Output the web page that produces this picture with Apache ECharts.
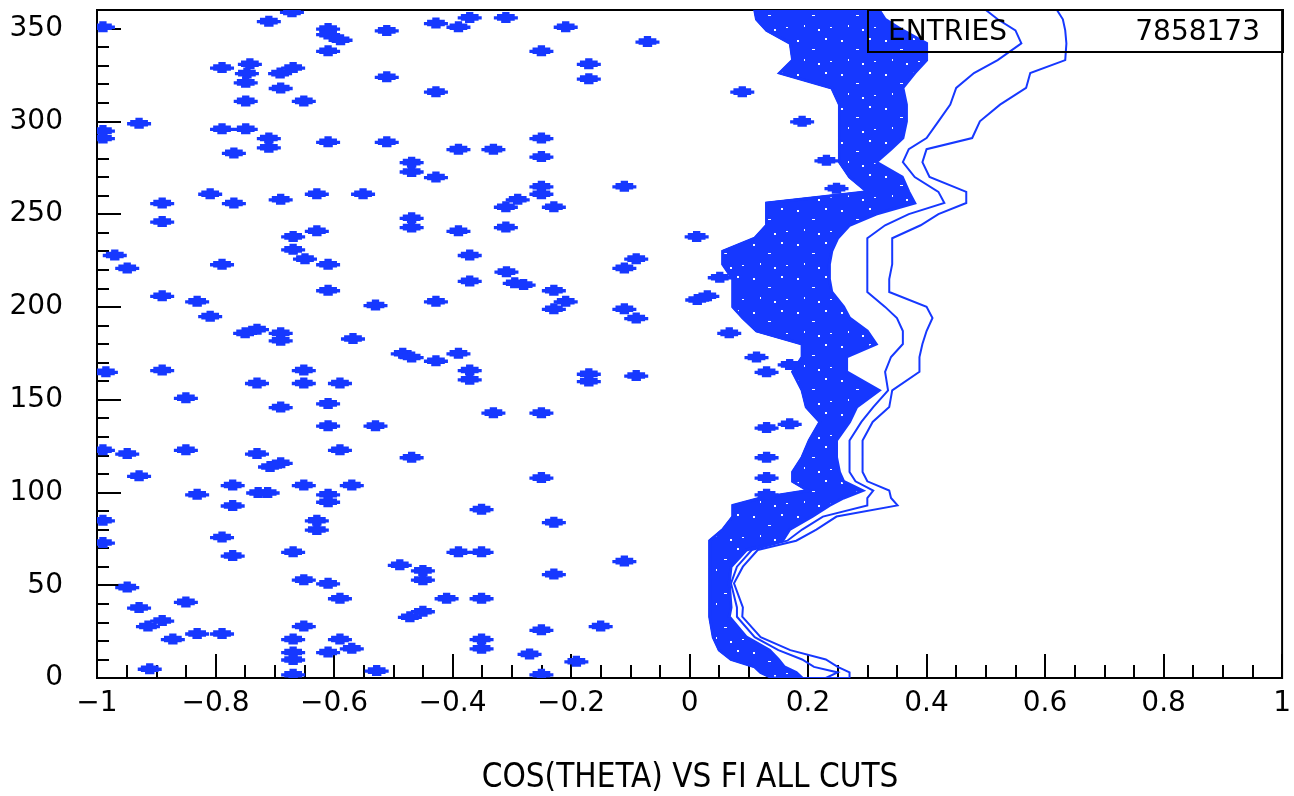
<!DOCTYPE html>
<html>
<head>
<meta charset="utf-8">
<script src="https://cdn.jsdelivr.net/npm/echarts@6/dist/echarts.min.js"></script>
<style>
  html, body { margin: 0; padding: 0; background: #fff; }
  #chart { width: 1294px; height: 796px; }
</style>
</head>
<body>
<div id="chart"></div>
<script>
// Axis ticks
const xTickValues = [-1, -0.8, -0.6, -0.4, -0.2, 0, 0.2, 0.4, 0.6, 0.8, 1];
const xTickLabels = ['\u22121', '\u22120.8', '\u22120.6', '\u22120.4', '\u22120.2', '0', '0.2', '0.4', '0.6', '0.8', '1'];
const yTickValues = [0, 50, 100, 150, 200, 250, 300, 350];
const yTickLabels = ['0', '50', '100', '150', '200', '250', '300', '350'];

const titleText = 'COS(THETA) VS FI ALL CUTS';
const statsLabel = 'ENTRIES';
const statsValue = '7858173';

// Sparse cells: [cos(theta), phi]
const sparseCells = [
  [-0.99, 351], [-0.71, 354], [-0.671, 359], [-0.61, 350], [-0.61, 347], [-0.511, 349],
  [-0.589, 344], [-0.61, 338], [-0.789, 329], [-0.742, 331], [-0.747, 326], [-0.749, 321],
  [-0.691, 326], [-0.669, 329], [-0.69, 318], [-0.511, 324], [-0.749, 311], [-0.651, 311],
  [-0.929, 299], [-0.99, 295], [-0.99, 291], [-0.789, 296], [-0.749, 296], [-0.71, 291],
  [-0.71, 286], [-0.769, 283], [-0.61, 289], [-0.511, 289], [-0.809, 261], [-0.89, 256],
  [-0.769, 256], [-0.69, 258], [-0.629, 261], [-0.551, 261], [-0.89, 246], [-0.629, 241],
  [-0.669, 238], [-0.669, 231], [-0.97, 228], [-0.649, 226], [-0.949, 221], [-0.789, 223],
  [-0.61, 223], [-0.89, 206], [-0.831, 203], [-0.61, 209], [-0.53, 201], [-0.809, 195],
  [-0.75, 186], [-0.73, 188], [-0.69, 186], [-0.69, 182], [-0.568, 183],
  [-0.985, 165], [-0.89, 166], [-0.73, 159], [-0.651, 166], [-0.651, 159], [-0.59, 159],
  [-0.85, 151], [-0.69, 146], [-0.61, 148], [-0.61, 136], [-0.53, 136], [-0.99, 123],
  [-0.949, 121], [-0.85, 123], [-0.73, 121], [-0.59, 123], [-0.708, 114], [-0.69, 116],
  [-0.929, 109], [-0.771, 104], [-0.728, 100], [-0.712, 100], [-0.831, 99], [-0.651, 104],
  [-0.61, 99], [-0.61, 95], [-0.57, 104], [-0.771, 93], [-0.99, 85], [-0.629, 85],
  [-0.629, 80], [-0.99, 73], [-0.789, 76], [-0.771, 66], [-0.669, 68], [-0.949, 49],
  [-0.651, 53], [-0.61, 51], [-0.59, 43], [-0.929, 38], [-0.85, 41], [-0.914, 28],
  [-0.89, 31], [-0.651, 28], [-0.872, 21], [-0.831, 24], [-0.789, 24], [-0.669, 21],
  [-0.59, 21], [-0.669, 14], [-0.669, 10], [-0.61, 14], [-0.57, 16], [-0.911, 5],
  [-0.669, 2], [-0.528, 4],
  [-0.428, 353], [-0.371, 356], [-0.39, 351], [-0.31, 356], [-0.209, 351], [-0.071, 343],
  [-0.25, 338], [-0.17, 331], [-0.17, 323], [-0.428, 316], [-0.25, 291], [-0.25, 281],
  [-0.39, 285], [-0.331, 285], [-0.469, 278], [-0.469, 273], [-0.428, 270], [-0.25, 265],
  [-0.25, 261], [-0.11, 265], [-0.29, 258], [-0.31, 254], [-0.229, 254], [-0.469, 248],
  [-0.469, 243], [-0.39, 241], [-0.31, 243], [0.012, 238], [-0.371, 228], [-0.09, 226],
  [-0.11, 221], [-0.309, 219], [-0.295, 213], [-0.28, 212], [-0.371, 214], [-0.428, 203],
  [-0.229, 209], [-0.209, 203], [-0.229, 199], [-0.11, 199], [-0.09, 194], [0.013, 204],
  [0.03, 206],
  [-0.484, 175], [-0.469, 173], [-0.428, 171], [-0.39, 175], [-0.371, 166], [-0.371, 161],
  [-0.17, 164], [-0.17, 160], [-0.09, 163], [-0.331, 143], [-0.25, 143], [-0.469, 119],
  [-0.25, 108], [-0.351, 91], [-0.229, 84], [-0.39, 68], [-0.351, 68], [-0.489, 61],
  [-0.45, 58], [-0.45, 53], [-0.229, 56], [-0.11, 63], [-0.41, 43], [-0.351, 43],
  [-0.472, 33], [-0.45, 36], [-0.25, 26], [-0.15, 28], [-0.351, 21], [-0.351, 16],
  [-0.27, 13], [-0.191, 9], [-0.25, 2],
  [0.089, 316], [0.19, 300], [0.231, 279], [0.248, 264], [0.051, 216], [0.067, 186],
  [0.113, 173], [0.13, 165], [0.169, 169], [0.13, 119], [0.13, 108], [0.13, 99],
  [0.13, 135], [0.169, 137]
];

// Populated band: phi levels, left edge, right edge of the filled core, inner and outer contours
const bandPhi   = [0, 3, 6, 10, 15, 22, 33, 38, 51, 60, 69, 74, 80, 87, 93, 97, 101, 106, 111, 119, 128, 138, 146, 155, 165, 173, 180, 187, 194, 200, 208, 215, 223, 230, 237, 244, 250, 256, 262, 270, 278, 285, 291, 300, 309, 318, 326, 333, 342, 349, 355, 360];
const bandLeft  = [0.14, 0.12, 0.11, 0.07, 0.05, 0.04, 0.034, 0.034, 0.034, 0.034, 0.034, 0.034, 0.056, 0.073, 0.073, 0.12, 0.2, 0.174, 0.174, 0.19, 0.202, 0.22, 0.197, 0.19, 0.174, 0.19, 0.19, 0.113, 0.09, 0.073, 0.073, 0.073, 0.056, 0.056, 0.11, 0.13, 0.13, 0.13, 0.3, 0.27, 0.253, 0.253, 0.253, 0.253, 0.253, 0.24, 0.152, 0.174, 0.17, 0.13, 0.113, 0.11];
const bandCore  = [0.19, 0.18, 0.16, 0.15, 0.135, 0.096, 0.067, 0.07, 0.067, 0.07, 0.096, 0.157, 0.169, 0.207, 0.236, 0.26, 0.292, 0.26, 0.253, 0.248, 0.248, 0.27, 0.282, 0.32, 0.265, 0.265, 0.315, 0.3, 0.27, 0.26, 0.24, 0.236, 0.236, 0.24, 0.25, 0.27, 0.315, 0.38, 0.37, 0.359, 0.315, 0.34, 0.36, 0.366, 0.366, 0.36, 0.38, 0.4, 0.4, 0.36, 0.33, 0.32];
const bandMid   = [0.23, 0.25, 0.21, 0.19, 0.15, 0.11, 0.08, 0.08, 0.07, 0.08, 0.105, 0.165, 0.19, 0.225, 0.3, 0.3, 0.31, 0.28, 0.27, 0.27, 0.27, 0.29, 0.31, 0.335, 0.33, 0.34, 0.36, 0.36, 0.35, 0.33, 0.3, 0.3, 0.3, 0.3, 0.3, 0.33, 0.37, 0.43, 0.42, 0.38, 0.36, 0.37, 0.4, 0.42, 0.44, 0.45, 0.48, 0.52, 0.56, 0.55, 0.52, 0.5];
const bandOuter = [0.27, 0.27, 0.25, 0.23, 0.17, 0.12, 0.089, 0.09, 0.075, 0.09, 0.115, 0.18, 0.214, 0.248, 0.351, 0.34, 0.337, 0.3, 0.292, 0.292, 0.292, 0.309, 0.337, 0.342, 0.388, 0.388, 0.393, 0.4, 0.41, 0.4, 0.337, 0.337, 0.342, 0.342, 0.342, 0.39, 0.42, 0.467, 0.467, 0.405, 0.393, 0.4, 0.477, 0.49, 0.524, 0.568, 0.575, 0.634, 0.636, 0.634, 0.63, 0.62];

const BLUE = '#1638ff';
// cell marker outline, 23 x 10 units
const MARK_PATH = 'M8,0 H15 V2 H20 V4 H23 V7 H20 V8 H16 V10 H7 V8 H3 V7 H0 V4 H3 V2 H8 Z';
const FONT = '"DejaVu Sans", "Liberation Sans", sans-serif';
const TITLE_FONT = '"DejaVu Sans Condensed", "Liberation Sans Narrow", "DejaVu Sans", sans-serif';

// Sparse speckle for the saturated core (gaps between overlapping contour levels)
function makeCoreTexture() {
  const c = document.createElement('canvas');
  c.width = 44; c.height = 34;
  const g = c.getContext('2d');
  g.fillStyle = BLUE;
  g.fillRect(0, 0, 44, 34);
  g.fillStyle = '#ffffff';
  g.fillRect(5, 6, 2, 2);
  g.fillRect(20, 15, 3, 1);
  g.fillRect(33, 4, 2, 2);
  g.fillRect(12, 25, 1, 2);
  g.fillRect(38, 27, 2, 1);
  g.fillRect(26, 29, 2, 2);
  return c;
}
const coreTexture = makeCoreTexture();

function fmtX(v) {
  const i = xTickValues.findIndex(t => Math.abs(t - v) < 1e-9);
  return i >= 0 ? xTickLabels[i] : '';
}
function fmtY(v) {
  const i = yTickValues.indexOf(v);
  return i >= 0 ? yTickLabels[i] : '';
}

function bandPolygon(api, leftArr, rightArr) {
  const pts = [];
  for (let i = 0; i < bandPhi.length; i++) pts.push(api.coord([leftArr[i], bandPhi[i]]));
  for (let i = bandPhi.length - 1; i >= 0; i--) pts.push(api.coord([rightArr[i], bandPhi[i]]));
  return pts;
}

const chart = echarts.init(document.getElementById('chart'), null, { renderer: 'canvas' });
chart.setOption({
  animation: false,
  backgroundColor: '#fff',
  grid: { left: 97, right: 11, top: 10, bottom: 118, show: true, borderColor: '#000', borderWidth: 2, backgroundColor: 'transparent' },
  xAxis: {
    type: 'value', min: -1, max: 1, interval: 0.2,
    axisLine: { onZero: false, lineStyle: { color: '#000', width: 2 } },
    axisTick: { inside: true, length: 24, lineStyle: { color: '#000', width: 2 } },
    minorTick: { show: true, splitNumber: 4, length: 13, lineStyle: { color: '#000', width: 2 } },
    splitLine: { show: false },
    axisLabel: { color: '#000', fontFamily: FONT, fontSize: 28, margin: 12, formatter: fmtX }
  },
  yAxis: {
    type: 'value', min: 0, max: 360, interval: 50,
    axisLine: { onZero: false, lineStyle: { color: '#000', width: 2 } },
    axisTick: { inside: true, length: 24, lineStyle: { color: '#000', width: 2 } },
    minorTick: { show: true, splitNumber: 5, length: 12, lineStyle: { color: '#000', width: 2 } },
    splitLine: { show: false },
    axisLabel: { color: '#000', fontFamily: FONT, fontSize: 28, margin: 34, showMaxLabel: false, formatter: fmtY }
  },
  series: [
    {
      type: 'custom',
      clip: true,
      silent: true,
      data: [0],
      renderItem: function (params, api) {
        return {
          type: 'group',
          children: [
            { type: 'polygon', shape: { points: bandPolygon(api, bandLeft, bandOuter) },
              style: { fill: 'none', stroke: BLUE, lineWidth: 2 } },
            { type: 'polygon', shape: { points: bandPolygon(api, bandLeft, bandMid) },
              style: { fill: 'none', stroke: BLUE, lineWidth: 2 } },
            { type: 'polygon', shape: { points: bandPolygon(api, bandLeft, bandCore) },
              style: { fill: { image: coreTexture, repeat: 'repeat' }, stroke: BLUE, lineWidth: 3 } }
          ]
        };
      }
    },
    {
      type: 'custom',
      clip: true,
      silent: true,
      data: sparseCells,
      renderItem: function (params, api) {
        const p = api.coord([api.value(0), api.value(1)]);
        return {
          type: 'path',
          shape: { pathData: MARK_PATH, x: p[0] - 12, y: p[1] - 5.5, width: 24, height: 11, layout: 'cover' },
          style: { fill: BLUE }
        };
      }
    }
  ],
  graphic: [
    { type: 'rect', shape: { x: 868, y: 10, width: 415, height: 42 }, style: { fill: 'none', stroke: '#000', lineWidth: 2 }, z: 100 },
    { type: 'text', x: 888, y: 33, style: { text: statsLabel, font: '28px ' + FONT, fill: '#000', textVerticalAlign: 'middle' }, z: 100 },
    { type: 'text', x: 1260, y: 33, style: { text: statsValue, font: '28px ' + FONT, fill: '#000', textAlign: 'right', textVerticalAlign: 'middle' }, z: 100 },
    { type: 'text', x: 690, y: 778, style: { text: titleText, font: '33px ' + TITLE_FONT, fill: '#000', textAlign: 'center', textVerticalAlign: 'middle' }, z: 100 }
  ]
});
</script>
</body>
</html>
